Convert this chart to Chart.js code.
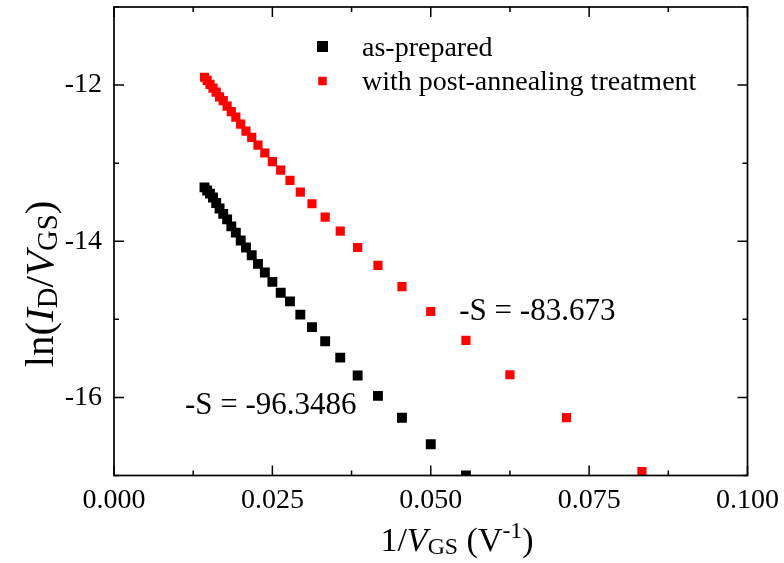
<!DOCTYPE html>
<html>
<head>
<meta charset="utf-8">
<title>ln(ID/VGS) vs 1/VGS</title>
<script src="https://cdn.jsdelivr.net/npm/chart.js@4/dist/chart.umd.min.js"></script>
<style>
    html, body { margin: 0; padding: 0; background: #fff; }
    #wrap { width: 784px; height: 563px; }
</style>
</head>
<body>
<div id="wrap"><canvas id="fnChart" width="784" height="563"></canvas></div>
<script>
// Gate voltages (V) of each measured point
const vgsAsPrepared = [70, 68, 66, 64, 62, 60, 58, 56, 54, 52, 50, 48, 46, 44, 42, 40, 38, 36, 34, 32, 30, 28, 26, 24, 22, 20, 18];
const vgsAnnealed = [70, 68, 66, 64, 62, 60, 58, 56, 54, 52, 50, 48, 46, 44, 42, 40, 38, 36, 34, 32, 30, 28, 26, 24, 22, 20, 18, 16, 14, 12];

// ln(ID/VGS) for each point
const lnAsPrepared = [-13.31, -13.35, -13.39, -13.44, -13.51, -13.58, -13.65, -13.72, -13.81, -13.89,
    -13.99, -14.08, -14.18, -14.29, -14.40, -14.52, -14.66, -14.77, -14.94, -15.10,
    -15.28, -15.49, -15.72, -15.98, -16.26, -16.60, -17.00];
const lnAnnealed = [-11.90, -11.94, -11.99, -12.04, -12.09, -12.15, -12.20, -12.27, -12.34, -12.41,
    -12.50, -12.59, -12.67, -12.77, -12.87, -12.98, -13.09, -13.22, -13.37, -13.52,
    -13.69, -13.87, -14.08, -14.31, -14.58, -14.90, -15.27, -15.71, -16.26, -16.95];

const seriesLabels = ['as-prepared', 'with post-annealing treatment'];
const slopeLabels = ['-S = -96.3486', '-S = -83.673'];

// axis ranges / tick steps
const xRange = [0, 0.1];
const yRange = [-17, -11];
const xStep = 0.0125;   // labelled every other tick
const yStep = 1;

const SERIF = '"Liberation Serif", "Times New Roman", serif';

function toPoints(vgs, lnVals) {
    return vgs.map((v, i) => ({ x: 1 / v, y: lnVals[i] }));
}

// draw a run of text pieces (italic / subscript / superscript) starting at x
function richWidth(ctx, parts, size) {
    let w = 0;
    parts.forEach(p => {
        const s = (p.sub || p.sup) ? size * 0.7 : size;
        ctx.font = (p.italic ? 'italic ' : '') + s + 'px ' + SERIF;
        w += ctx.measureText(p.t).width;
    });
    return w;
}

function drawRich(ctx, parts, x, y, size) {
    let cx = x;
    parts.forEach(p => {
        const s = (p.sub || p.sup) ? size * 0.7 : size;
        ctx.font = (p.italic ? 'italic ' : '') + s + 'px ' + SERIF;
        let dy = 0;
        if (p.sub) dy = size * 0.1;
        if (p.sup) dy = -size * 0.38;
        ctx.fillText(p.t, cx, y + dy);
        cx += ctx.measureText(p.t).width;
    });
}

const isMajorX = v => Math.round(v / xStep) % 2 === 0;
const isMajorY = v => Math.round(v) % 2 === 0;

// keep the plot box fixed, no extra room for the end labels
function fixPadding(s) {
    s.paddingTop = 0;
    s.paddingBottom = 0;
    s.paddingLeft = 0;
    s.paddingRight = 0;
}

// Origin-style frame: box on all four sides, ticks pointing inward
const framePlugin = {
    id: 'frame',
    afterDatasetsDraw(chart) {
        const { ctx, chartArea: a, scales } = chart;
        const xs = scales.x, ys = scales.y;
        ctx.save();
        ctx.strokeStyle = '#000';
        ctx.lineWidth = 1.7;
        ctx.strokeRect(a.left, a.top, a.right - a.left, a.bottom - a.top);

        ctx.lineWidth = 1.5;
        ctx.beginPath();
        xs.ticks.forEach(t => {
            const px = xs.getPixelForValue(t.value);
            const len = isMajorX(t.value) ? 10 : 5;
            ctx.moveTo(px, a.bottom); ctx.lineTo(px, a.bottom - len);
            ctx.moveTo(px, a.top); ctx.lineTo(px, a.top + len);
        });
        ys.ticks.forEach(t => {
            const py = ys.getPixelForValue(t.value);
            const len = isMajorY(t.value) ? 10 : 5;
            ctx.moveTo(a.left, py); ctx.lineTo(a.left + len, py);
            ctx.moveTo(a.right, py); ctx.lineTo(a.right - len, py);
        });
        ctx.stroke();
        ctx.restore();
    },
    afterDraw(chart) {
        const { ctx, scales } = chart;
        const xs = scales.x, ys = scales.y;
        ctx.save();
        ctx.fillStyle = '#000';
        ctx.textBaseline = 'alphabetic';
        ctx.textAlign = 'left';

        // legend
        const ds = chart.data.datasets;
        const marks = [{ size: 11, cy: 46.5 }, { size: 8.5, cy: 81 }];
        ds.forEach((d, i) => {
            ctx.fillStyle = d.backgroundColor;
            ctx.fillRect(322.5 - marks[i].size / 2, marks[i].cy - marks[i].size / 2, marks[i].size, marks[i].size);
            ctx.fillStyle = '#000';
            ctx.font = '28px ' + SERIF;
            ctx.fillText(d.label, 362, marks[i].cy + 9);
        });

        // slope annotations, placed next to the fitted series
        ctx.font = '31px ' + SERIF;
        ctx.fillText(slopeLabels[0], xs.getPixelForValue(0.0112), ys.getPixelForValue(-16.21));
        ctx.fillText(slopeLabels[1], xs.getPixelForValue(0.0545), ys.getPixelForValue(-15.01));

        // x axis title: 1/VGS (V-1)
        const xTitle = [{ t: '1/' }, { t: 'V', italic: true }, { t: 'GS', sub: true }, { t: ' (V' }, { t: '-1', sup: true }, { t: ')' }];
        const xw = richWidth(ctx, xTitle, 34);
        drawRich(ctx, xTitle, 457 - xw / 2, 551, 34);

        // y axis title: ln(ID/VGS), rotated
        const yTitle = [{ t: 'ln(' }, { t: 'I', italic: true }, { t: 'D', sub: true }, { t: '/' }, { t: 'V', italic: true }, { t: 'GS', sub: true }, { t: ')' }];
        const yw = richWidth(ctx, yTitle, 41);
        ctx.translate(53, 284);
        ctx.rotate(-Math.PI / 2);
        drawRich(ctx, yTitle, -yw / 2, 0, 41);
        ctx.restore();
    }
};

new Chart(document.getElementById('fnChart'), {
    type: 'scatter',
    data: {
        datasets: [{
            label: seriesLabels[0],
            data: toPoints(vgsAsPrepared, lnAsPrepared),
            backgroundColor: '#000000',
            borderColor: '#000000',
            pointStyle: 'rect',
            pointRadius: 7,
            borderWidth: 0,
            clip: 0
        }, {
            label: seriesLabels[1],
            data: toPoints(vgsAnnealed, lnAnnealed),
            backgroundColor: '#ff0000',
            borderColor: '#ff0000',
            pointStyle: 'rect',
            pointRadius: 6.5,
            borderWidth: 0,
            clip: 0
        }]
    },
    options: {
        responsive: false,
        devicePixelRatio: 1,
        animation: false,
        events: [],
        layout: { padding: { top: 6, right: 36.5, left: 0, bottom: 0 } },
        plugins: {
            legend: { display: false },
            tooltip: { enabled: false }
        },
        scales: {
            x: {
                type: 'linear',
                min: xRange[0],
                max: xRange[1],
                grid: { display: false, drawTicks: false },
                border: { display: false },
                ticks: {
                    stepSize: xStep,
                    autoSkip: false,
                    maxRotation: 0,
                    padding: 8,
                    color: '#000',
                    font: { family: SERIF, size: 28 },
                    callback: v => isMajorX(v) ? v.toFixed(3) : ''
                },
                afterFit: s => { s.height = 87.5; fixPadding(s); }
            },
            y: {
                type: 'linear',
                min: yRange[0],
                max: yRange[1],
                grid: { display: false, drawTicks: false },
                border: { display: false },
                ticks: {
                    stepSize: yStep,
                    autoSkip: false,
                    padding: 12,
                    color: '#000',
                    font: { family: SERIF, size: 28 },
                    callback: v => isMajorY(v) ? String(v) : ''
                },
                afterFit: s => { s.width = 114; fixPadding(s); }
            }
        }
    },
    plugins: [framePlugin]
});
</script>
</body>
</html>
